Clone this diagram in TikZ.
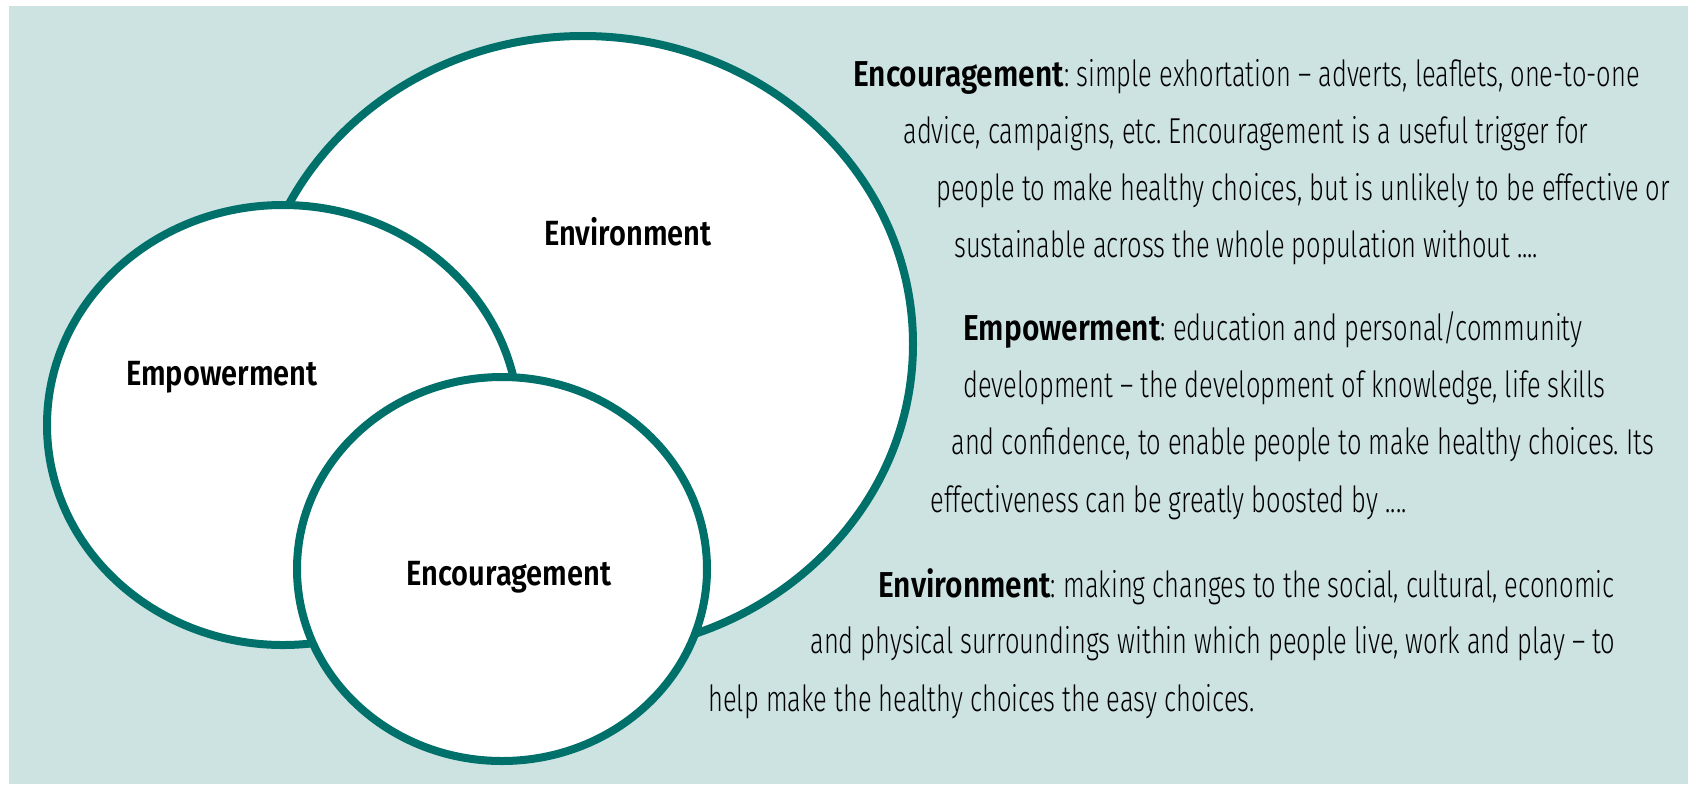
\documentclass[tikz,border=0pt]{standalone}
\usepackage{fontspec}
\setmainfont{Fira Sans}[UprightFont={* Light}, BoldFont={* SemiBold}, FakeStretch=0.708, BoldFeatures={FakeStretch=0.83}]
\usetikzlibrary{shapes.geometric,positioning}
\frenchspacing

\definecolor{bgteal}{HTML}{CDE3E1}
\definecolor{ringteal}{HTML}{00706A}

\begin{document}
\begin{tikzpicture}[
    x=0.5pt, y=-0.5pt,
    ring/.style={ellipse, draw=ringteal, line width=4pt, fill=white, inner sep=0pt, outer sep=0pt},
    ringlabel/.style={anchor=base, inner sep=0pt, font=\fontsize{17.5}{21}\selectfont\bfseries},
    desc/.style={anchor=base west, inner sep=0pt, font=\fontsize{18}{22}\selectfont}
]

% Background
\useasboundingbox (0,0) rectangle (1688,784);
\fill[bgteal] (8.7,6) rectangle (1688,784);

% Rings
\node[ring, minimum width=330pt, minimum height=308pt] (env) at (583,344) {};
\node[ring, minimum width=236pt, minimum height=220pt] (emp) at (283,425) {};
\node[ring, minimum width=205pt, minimum height=192pt] (enc) at (502,569) {};

% Ring labels
\node[ringlabel] (envlabel) at (628,245) {Environment};
\node[ringlabel] (emplabel) at (222,385) {Empowerment};
\node[ringlabel] (enclabel) at (509,585) {Encouragement};

% Encouragement text
\node[desc] (enc1) at (853,86) {\textbf{Encouragement}: simple exhortation -- adverts, leaflets, one-to-one};
\node[desc] (enc2) at (903,143) {advice, campaigns, etc. Encouragement is a useful trigger for};
\node[desc] (enc3) at (936,200) {people to make healthy choices, but is unlikely to be effective or};
\node[desc] (enc4) at (954,257) {sustainable across the whole population without ....};

% Empowerment text
\node[desc] (emp1) at (963,340) {\textbf{Empowerment}: education and personal/community};
\node[desc] (emp2) at (963,397) {development -- the development of knowledge, life skills};
\node[desc] (emp3) at (951,454) {and confidence, to enable people to make healthy choices. Its};
\node[desc] (emp4) at (930,512) {effectiveness can be greatly boosted by ....};

% Environment text
\node[desc] (env1) at (878,597) {\textbf{Environment}: making changes to the social, cultural, economic};
\node[desc] (env2) at (810,653) {and physical surroundings within which people live, work and play -- to};
\node[desc] (env3) at (708,711) {help make the healthy choices the easy choices.};

\end{tikzpicture}
\end{document}
